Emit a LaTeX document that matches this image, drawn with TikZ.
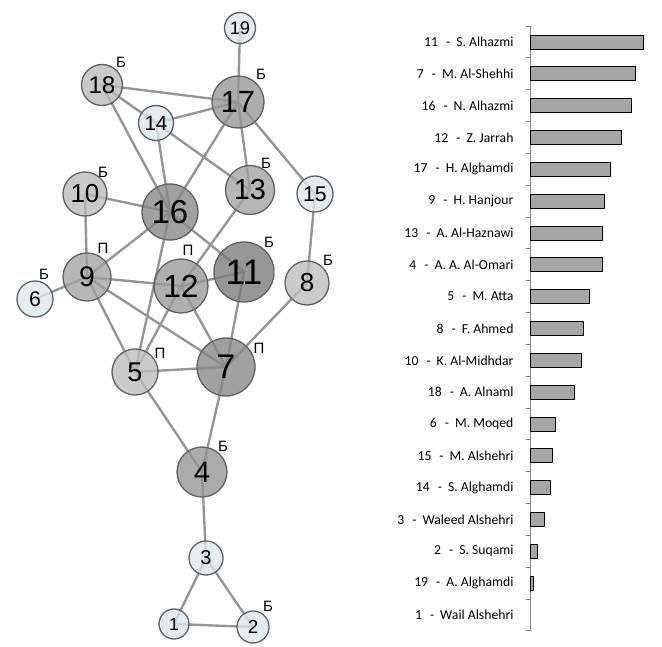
\documentclass[tikz,border=0pt]{standalone}
\usepackage{fontspec}
\setmainfont{Liberation Sans}
\newfontfamily\barfont{Carlito}
\usetikzlibrary{backgrounds}
\definecolor{pale}{RGB}{221,231,234}
\definecolor{edgegray}{RGB}{150,150,150}
\definecolor{axisgray}{RGB}{134,134,134}
\begin{document}
\begin{tikzpicture}[x=1pt, y=-1pt, line join=round, line cap=round,
    vertex/.style={circle, draw=black!62, line width=1.3pt, fill opacity=0.78, text opacity=1, inner sep=0pt},
    link/.style={draw=edgegray, line width=2.4pt},
    role/.style={font=\fontsize{15}{15}\selectfont},
    bar/.style={draw=black, line width=0.9pt, fill=black!35},
    barlabel/.style={anchor=east, font=\barfont\fontsize{13.7}{14}\selectfont}]
  \useasboundingbox (0,0) rectangle (662,647);
  % network
  \foreach \name/\px/\py/\r/\shade in {19/240/28/15.5/pale, 18/102/85/20.5/black!27, 17/238/102/26/black!41,
      14/156/123/17.5/pale, 10/85/194/22/black!27, 16/170/212/28/black!47, 13/250/190/24.5/black!37,
      15/315/194/18/pale, 9/87/277/24/black!37, 6/35/299/18/pale, 12/181/286/27/black!40,
      11/244/272/30/black!52, 8/307/283/22/black!26, 5/135/372/23/black!26, 7/226/367/29/black!47,
      4/202/472/25/black!42, 3/206/558/17/pale, 1/174/624/15/pale, 2/253/627/16/pale}{
    \pgfmathsetmacro{\fs}{1.18*\r}
    \node[vertex, minimum size=2*\r, fill=\shade, font=\fontsize{\fs}{\fs}\selectfont] (n\name) at (\px,\py) {\name};
  }
  \begin{pgfonlayer}{background}
    \foreach \a/\b in {19/17, 18/17, 18/14, 18/16, 14/17, 14/16, 14/13, 17/16, 17/13, 17/15,
        10/16, 10/9, 16/9, 16/5, 16/11, 13/12, 12/5, 9/6, 9/12, 12/11, 9/5, 9/7, 12/7, 11/7,
        8/7, 15/8, 5/7, 5/4, 7/4, 4/3, 3/1, 3/2, 1/2}
      \draw[link] (n\a.center) -- (n\b.center);
  \end{pgfonlayer}
  % roles
  \foreach \name/\px/\py/\txt in {18/121/62/Б, 17/261/74/Б, 10/103/172/Б, 13/266/163/Б, 9/103/248/П,
      6/44/274/Б, 12/188/250/П, 11/269/242/Б, 8/328/260/Б, 5/160/353/П, 7/259/348/П, 4/223/446/Б, 2/268/606/Б}
    \node[role] (r\name) at (\px,\py) {\txt};
  % bar chart
  \draw[axisgray, line width=0.8pt] (530,26) -- (530,631);
  \foreach \k in {0,...,19}
    \draw[axisgray, line width=0.8pt] (526,26+31.83*\k) -- (530,26+31.83*\k);
  \foreach \num/\who/\len [count=\i from 0] in {11/S. Alhazmi/113, 7/M. Al-Shehhi/105, 16/N. Alhazmi/101,
      12/Z. Jarrah/91, 17/H. Alghamdi/80, 9/H. Hanjour/74, 13/A. Al-Haznawi/72, 4/A. A. Al-Omari/72,
      5/M. Atta/59, 8/F. Ahmed/53, 10/K. Al-Midhdar/51, 18/A. Alnaml/44, 6/M. Moqed/25, 15/M. Alshehri/22,
      14/S. Alghamdi/20, 3/Waleed Alshehri/14, 2/S. Suqami/7, 19/A. Alghamdi/3, 1/Wail Alshehri/0}{
    \pgfmathsetmacro{\yy}{42+31.83*\i}
    \node[barlabel] (lab\num) at (517,\yy) {\num\hspace{8pt}-\hspace{6pt}\who};
    \ifnum\len>0
      \draw[bar] (530,\yy-7) rectangle ++(\len,14);
    \fi
  }
\end{tikzpicture}
\end{document}
